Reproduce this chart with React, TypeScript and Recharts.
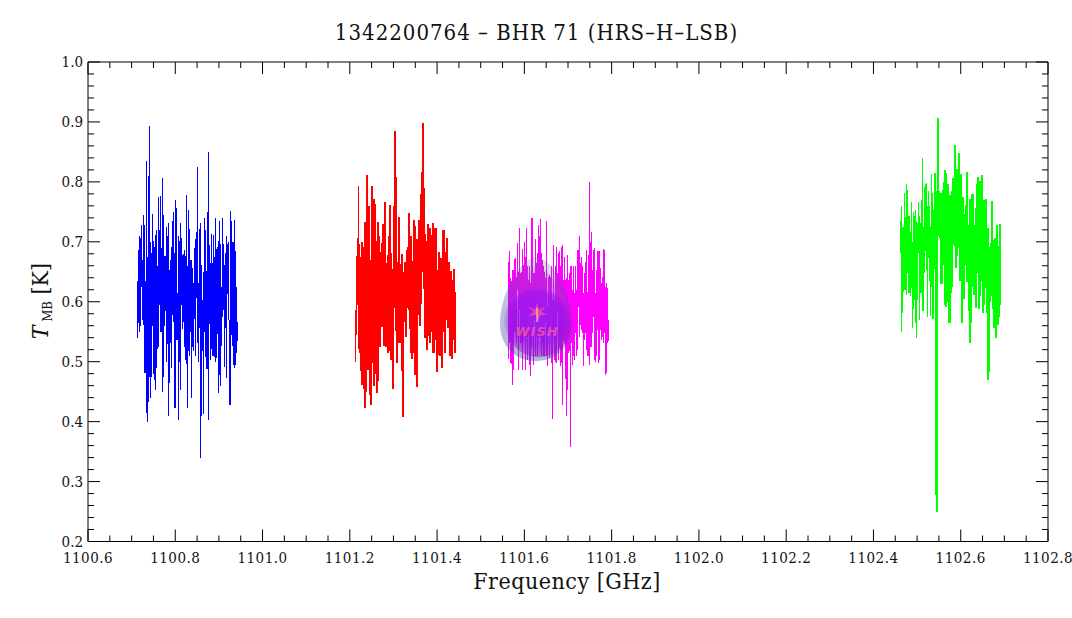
import React from 'react'
import { LineChart, Line, XAxis, YAxis } from 'recharts';

// channel width of the spectrum in GHz, one channel is about one pixel
const channelWidth = 0.00229;

const blueStart = 1100.713;
const blueHigh = [.634,.686,.709,.706,.728,.670,.745,.728,.634,.834,.675,.809,.893,.700,.681,.747,.702,.692,.712,.719,.660,.775,.719,.777,.690,.807,.745,.677,.677,.725,.710,.732,.653,.669,.692,.734,.750,.681,.770,.757,.614,.710,.702,.732,.706,.678,.680,.686,.677,.778,.659,.753,.722,.670,.670,.657,.632,.690,.705,.717,.825,.631,.722,.732,.661,.603,.649,.739,.719,.651,.749,.850,.695,.665,.713,.664,.712,.674,.740,.688,.692,.702,.735,.696,.624,.740,.696,.661,.682,.709,.696,.699,.570,.752,.734,.699,.699,.737,.684,.624,.567];
const blueLow = [.540,.565,.550,.560,.624,.570,.561,.481,.481,.415,.400,.433,.474,.440,.474,.560,.480,.469,.452,.490,.522,.524,.595,.550,.550,.449,.475,.559,.584,.499,.530,.410,.465,.532,.490,.578,.567,.423,.423,.536,.536,.403,.500,.452,.595,.555,.567,.524,.503,.496,.423,.518,.510,.549,.440,.524,.517,.571,.509,.606,.531,.500,.556,.339,.410,.517,.412,.549,.507,.487,.487,.402,.563,.502,.521,.509,.509,.507,.499,.506,.546,.447,.478,.460,.526,.575,.586,.491,.557,.472,.613,.569,.427,.427,.545,.526,.495,.490,.494,.514,.534];

const redStart = 1101.212;
const redHigh = [.586,.676,.706,.793,.696,.675,.594,.700,.691,.663,.733,.714,.812,.739,.759,.670,.642,.793,.752,.772,.763,.702,.702,.733,.710,.649,.683,.698,.730,.709,.767,.664,.664,.678,.710,.762,.681,.655,.626,.760,.885,.808,.666,.655,.742,.660,.663,.680,.598,.650,.666,.663,.686,.691,.748,.626,.710,.636,.668,.737,.727,.640,.705,.701,.737,.727,.780,.817,.898,.790,.713,.701,.655,.730,.723,.723,.712,.653,.731,.659,.723,.723,.575,.653,.683,.660,.673,.636,.720,.720,.673,.683,.706,.661,.666,.615,.651,.621,.636,.655,.616];
const redLow = [.499,.545,.595,.522,.515,.484,.463,.461,.552,.454,.422,.449,.552,.486,.610,.445,.427,.497,.603,.460,.480,.480,.448,.467,.572,.524,.602,.558,.583,.526,.592,.525,.550,.514,.517,.517,.503,.503,.455,.590,.590,.552,.498,.539,.532,.532,.552,.485,.407,.575,.567,.541,.590,.609,.586,.555,.514,.504,.514,.537,.477,.524,.457,.578,.624,.560,.596,.649,.763,.621,.539,.539,.519,.543,.586,.531,.590,.550,.514,.514,.536,.542,.482,.511,.584,.510,.540,.489,.554,.550,.515,.585,.569,.557,.567,.509,.544,.504,.536,.571,.515];

const magentaStart = 1101.563;
const magentaHigh = [.667,.685,.639,.634,.653,.653,.671,.673,.642,.698,.650,.723,.648,.650,.688,.662,.700,.675,.723,.659,.637,.659,.631,.739,.739,.648,.648,.704,.664,.681,.728,.709,.738,.681,.670,.659,.650,.639,.734,.592,.642,.645,.642,.659,.603,.695,.603,.659,.692,.648,.681,.684,.659,.692,.695,.637,.675,.637,.639,.678,.637,.648,.659,.659,.620,.659,.614,.659,.620,.687,.687,.710,.664,.675,.659,.614,.648,.667,.687,.617,.678,.799,.700,.717,.653,.687,.689,.614,.653,.684,.684,.684,.656,.631,.642,.688,.687,.625,.631,.623,.570];
const magentaLow = [.504,.531,.498,.496,.461,.486,.550,.549,.531,.619,.486,.587,.531,.531,.486,.536,.550,.486,.542,.503,.545,.495,.476,.525,.541,.495,.570,.509,.542,.509,.542,.542,.542,.509,.531,.509,.509,.567,.509,.492,.542,.506,.548,.498,.405,.548,.503,.499,.498,.584,.503,.525,.492,.498,.427,.536,.531,.471,.410,.452,.514,.517,.357,.531,.495,.509,.503,.548,.509,.520,.592,.542,.562,.553,.548,.492,.536,.548,.520,.509,.509,.495,.525,.525,.548,.575,.503,.500,.509,.553,.498,.503,.553,.536,.542,.531,.548,.477,.481,.531,.534];

const greenStart = 1102.461;
const greenHigh = [.734,.759,.725,.725,.782,.742,.797,.787,.743,.743,.717,.767,.700,.750,.743,.753,.734,.731,.767,.743,.731,.769,.840,.725,.792,.797,.798,.760,.785,.760,.725,.813,.782,.753,.737,.815,.706,.784,.907,.784,.773,.782,.737,.787,.799,.820,.815,.759,.797,.748,.778,.778,.785,.807,.805,.862,.813,.822,.822,.849,.762,.813,.762,.775,.717,.747,.762,.817,.728,.700,.772,.678,.780,.780,.725,.728,.757,.797,.808,.749,.802,.742,.812,.723,.770,.706,.772,.721,.723,.671,.692,.698,.768,.698,.703,.706,.702,.728,.671,.693,.730];
const greenLow = [.681,.550,.582,.617,.620,.620,.611,.648,.615,.614,.609,.623,.557,.588,.603,.565,.539,.603,.681,.569,.614,.615,.584,.584,.648,.685,.653,.575,.673,.635,.577,.625,.670,.571,.654,.706,.278,.250,.710,.728,.706,.629,.629,.661,.661,.595,.592,.686,.600,.564,.564,.615,.625,.706,.695,.692,.657,.677,.689,.700,.634,.636,.565,.605,.605,.661,.666,.633,.634,.584,.532,.565,.678,.624,.611,.621,.590,.660,.648,.588,.610,.639,.634,.582,.594,.641,.623,.581,.469,.482,.600,.609,.609,.588,.557,.557,.539,.564,.561,.574,.594];

const xMajor = [1100.6, 1100.8, 1101.0, 1101.2, 1101.4, 1101.6, 1101.8, 1102.0, 1102.2, 1102.4, 1102.6, 1102.8];
const yMajor = [0.2, 0.3, 0.4, 0.5, 0.6, 0.7, 0.8, 0.9, 1.0];

const xTicks = Array.from({ length: 45 }, (_, i) => +(1100.6 + i * 0.05).toFixed(2));
const yTicks = Array.from({ length: 41 }, (_, i) => +(0.2 + i * 0.02).toFixed(2));

const PLOT = { left: 88, right: 1048, top: 62, bottom: 541.5 };
const serif = '"DejaVu Serif Condensed", "DejaVu Serif", serif';

// each channel is its own spike between high and low, the null breaks the line
const spikes = (start: number, high: number[], low: number[]) =>
    high.flatMap((h, i) => [
        { freq: start + i * channelWidth, tmb: h },
        { freq: start + i * channelWidth, tmb: low[i] },
        { freq: start + i * channelWidth, tmb: null },
    ]);

const isMajor = (v: number, list: number[]) => list.some((m) => Math.abs(m - v) < 1e-6);

const BottomTick = ({ x, payload }: any) => {
    const major = isMajor(payload.value, xMajor);
    return (
        <g>
            <line x1={x} x2={x} y1={PLOT.bottom} y2={PLOT.bottom - (major ? 12 : 6)} stroke="#000" />
            {major && <text x={x} y={563} textAnchor="middle" fontSize={15} letterSpacing={0.5} fontFamily={serif} fill="#111">{payload.value.toFixed(1)}</text>}
        </g>
    );
};

const TopTick = ({ x, payload }: any) => (
    <line x1={x} x2={x} y1={PLOT.top} y2={PLOT.top + (isMajor(payload.value, xMajor) ? 12 : 6)} stroke="#000" />
);

const LeftTick = ({ y, payload }: any) => {
    const major = isMajor(payload.value, yMajor);
    return (
        <g>
            <line x1={PLOT.left} x2={PLOT.left + (major ? 12 : 6)} y1={y} y2={y} stroke="#000" />
            {major && <text x={83} y={y + 5} textAnchor="end" fontSize={15} fontFamily={serif} fill="#111">{payload.value.toFixed(1)}</text>}
        </g>
    );
};

const RightTick = ({ y, payload }: any) => (
    <line x1={PLOT.right} x2={PLOT.right - (isMajor(payload.value, yMajor) ? 12 : 6)} y1={y} y2={y} stroke="#000" />
);

// the little WISH egg sitting on top of the spectrum
const WishLogo = () => (
    <svg width={1072} height={618} style={{ position: 'absolute', left: 0, top: 0, pointerEvents: 'none' }}>
        <defs>
            <linearGradient id="egg" x1="0" y1="0" x2="0" y2="1">
                <stop offset="0" stopColor="#5a7088" stopOpacity={0.2} />
                <stop offset="0.4" stopColor="#324d9a" stopOpacity={0.33} />
                <stop offset="1" stopColor="#324d9a" stopOpacity={0.4} />
            </linearGradient>
            <linearGradient id="dome" x1="0" y1="0" x2="0" y2="1">
                <stop offset="0" stopColor="#d020f0" stopOpacity={0.1} />
                <stop offset="0.35" stopColor="#d020f0" stopOpacity={0.4} />
                <stop offset="1" stopColor="#a000d0" stopOpacity={0.45} />
            </linearGradient>
            <radialGradient id="core" cx="0.5" cy="0.45" r="0.55">
                <stop offset="0" stopColor="#9020ff" stopOpacity={0.65} />
                <stop offset="0.7" stopColor="#9010f0" stopOpacity={0.5} />
                <stop offset="1" stopColor="#9010f0" stopOpacity={0} />
            </radialGradient>
        </defs>
        <path d="M536 257 C552 257 572 295 572 323 C572 347 556 361 536 361 C516 361 500 347 500 323 C500 295 520 257 536 257 Z" fill="url(#egg)" />
        <path d="M536 266 C550 268 571 300 571 325 C570 345 555 357 538 357 C522 357 506 345 508 322 C509 300 522 270 536 266 Z" fill="url(#dome)" />
        <circle cx={537} cy={322} r={33} fill="url(#core)" />
        <path d="M537 303 L539 310 L546 306 L541 312 L547 315 L540 315 L538 322 L536 315 L528 316 L534 312 L528 306 L535 310 Z" fill="#ff5a8c" fillOpacity={0.7} />
        <line x1={537} x2={537} y1={308} y2={322} stroke="#ffe0a0" strokeWidth={1} />
        <text x={537} y={336} textAnchor="middle" fontSize={13} fontWeight="bold" fontStyle="italic" letterSpacing={1} fontFamily="'DejaVu Sans', sans-serif" fill="#f45aa0" fillOpacity={0.8}>WISH</text>
    </svg>
);

const App = () => {
    return (
        <div style={{ position: 'absolute', left: 0, top: 0, width: 1072, height: 618, background: '#fff' }}>
            <LineChart width={1072} height={618} margin={{ top: 0, right: 0, bottom: 0, left: 0 }}>
                <XAxis xAxisId={0} type="number" dataKey="freq" orientation="bottom" domain={[1100.6, 1102.8]} ticks={xTicks} interval={0} height={76.5} tick={BottomTick} tickLine={false} axisLine={{ stroke: '#000' }} allowDataOverflow />
                <XAxis xAxisId="top" type="number" dataKey="freq" orientation="top" domain={[1100.6, 1102.8]} ticks={xTicks} interval={0} height={62} tick={TopTick} tickLine={false} axisLine={{ stroke: '#000' }} allowDataOverflow />
                <YAxis yAxisId={0} type="number" orientation="left" domain={[0.2, 1.0]} ticks={yTicks} interval={0} width={88} tick={LeftTick} tickLine={false} axisLine={{ stroke: '#000' }} allowDataOverflow />
                <YAxis yAxisId="right" type="number" orientation="right" domain={[0.2, 1.0]} ticks={yTicks} interval={0} width={24} tick={RightTick} tickLine={false} axisLine={{ stroke: '#000' }} allowDataOverflow />
                <Line data={spikes(blueStart, blueHigh, blueLow)} dataKey="tmb" stroke="#0000ff" strokeWidth={1.4} dot={false} connectNulls={false} isAnimationActive={false} shapeRendering="crispEdges" />
                <Line data={spikes(redStart, redHigh, redLow)} dataKey="tmb" stroke="#ff0000" strokeWidth={1.1} dot={false} connectNulls={false} isAnimationActive={false} shapeRendering="crispEdges" />
                <Line data={spikes(magentaStart, magentaHigh, magentaLow)} dataKey="tmb" stroke="#ff00ff" strokeWidth={1.1} dot={false} connectNulls={false} isAnimationActive={false} shapeRendering="crispEdges" />
                <Line data={spikes(greenStart, greenHigh, greenLow)} dataKey="tmb" stroke="#00ff00" strokeWidth={1.1} dot={false} connectNulls={false} isAnimationActive={false} shapeRendering="crispEdges" />
                <text x={536.5} y={40} textAnchor="middle" fontSize={22} letterSpacing={1} fontFamily={serif} fill="#111">1342200764 – BHR 71 (HRS–H–LSB)</text>
                <text x={567} y={589} textAnchor="middle" fontSize={23} letterSpacing={0.5} fontFamily={serif} fill="#111">Frequency [GHz]</text>
                <text transform="translate(48,301) rotate(-90)" textAnchor="middle" fontSize={23} fontFamily={serif} fill="#111">
                    <tspan fontStyle="italic">T</tspan>
                    <tspan fontSize={13} dy={4}> MB</tspan>
                    <tspan dy={-4}> [K]</tspan>
                </text>
            </LineChart>
            <WishLogo />
        </div>
    )
}

export default App
